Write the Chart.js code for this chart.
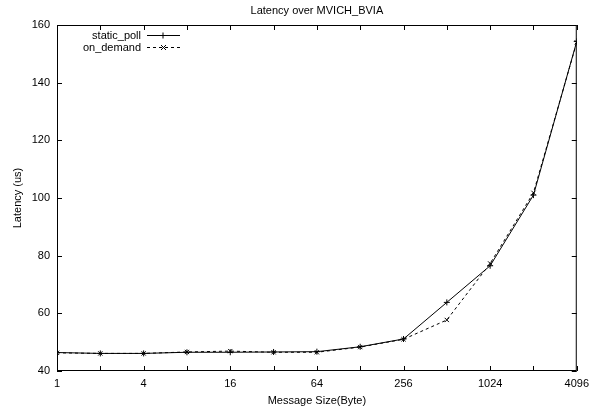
<!DOCTYPE html>
<html>
<head>
<meta charset="utf-8">
<script src="https://cdn.jsdelivr.net/npm/chart.js@4"></script>
<style>
  html,body{margin:0;padding:0;background:#fff;}
  #wrap{width:595px;height:412px;}
</style>
</head>
<body>
<div id="wrap"><canvas id="myChart" width="595" height="412"></canvas></div>
<script>
// message sizes (bytes) and latencies (us)
var sizes=[1,2,4,8,16,32,64,128,256,512,1024,2048,4096];
var static_poll=[46.4,46.1,46.1,46.5,46.5,46.6,46.7,48.4,51.1,63.8,76.5,101.0,154.3];
var on_demand=[46.3,46.1,46.1,46.6,46.9,46.5,46.5,48.3,51.0,57.7,77.3,101.8,154.0];
var xLabels=[1,4,16,64,256,1024,4096];
var yTicks=[40,60,80,100,120,140,160];

var FONT="'Liberation Sans', Arial, Helvetica, sans-serif";

function toPoints(vals){
  return sizes.map(function(s,i){return {x:s,y:vals[i]};});
}

// gnuplot-ish frame, inward ticks, titles and key
var gnuFrame={
  id:'gnuFrame',
  afterDraw:function(chart){
    var ctx=chart.ctx, a=chart.chartArea;
    var xs=chart.scales.x, ys=chart.scales.y;
    ctx.save();
    ctx.strokeStyle='#000';
    ctx.lineWidth=1;
    ctx.strokeRect(a.left+0.5,a.top+0.5,a.right-a.left-1,a.bottom-a.top-1);
    ctx.beginPath();
    sizes.forEach(function(s){
      var px=Math.round(xs.getPixelForValue(s))+0.5;
      ctx.moveTo(px,a.bottom);ctx.lineTo(px,a.bottom-5);
      ctx.moveTo(px,a.top);ctx.lineTo(px,a.top+5);
    });
    yTicks.forEach(function(v){
      var py=Math.round(ys.getPixelForValue(v))+0.5;
      ctx.moveTo(a.left,py);ctx.lineTo(a.left+5,py);
      ctx.moveTo(a.right,py);ctx.lineTo(a.right-5,py);
    });
    ctx.stroke();

    ctx.fillStyle='#000';
    ctx.font='11px '+FONT;
    ctx.textAlign='center';
    ctx.textBaseline='middle';
    var cx=(a.left+a.right)/2;
    ctx.fillText('Latency over MVICH_BVIA',cx,11);
    ctx.fillText('Message Size(Byte)',cx,401);
    ctx.save();
    ctx.translate(18,(a.top+a.bottom)/2);
    ctx.rotate(-Math.PI/2);
    ctx.fillText('Latency (us)',0,0);
    ctx.restore();

    // key
    ctx.textAlign='right';
    var rows=[['static_poll',[],'cross'],['on_demand',[3,3],'crossRot']];
    rows.forEach(function(r,i){
      var y=35+i*12+0.5;
      ctx.fillText(r[0],141,y);
      ctx.setLineDash(r[1]);
      ctx.beginPath();ctx.moveTo(147,y);ctx.lineTo(180,y);ctx.stroke();
      ctx.setLineDash([]);
      ctx.beginPath();
      if(r[2]==='cross'){
        ctx.moveTo(160,y);ctx.lineTo(166,y);ctx.moveTo(163,y-3);ctx.lineTo(163,y+3);
      }else{
        ctx.moveTo(161,y-2.5);ctx.lineTo(166,y+2.5);ctx.moveTo(166,y-2.5);ctx.lineTo(161,y+2.5);
      }
      ctx.stroke();
    });
    ctx.restore();
  }
};

var ctx=document.getElementById('myChart');
var myChart=new Chart(ctx,{
  type:'line',
  data:{
    datasets:[
      {
        label:'static_poll',
        data:toPoints(static_poll),
        borderColor:'#000',
        backgroundColor:'#000',
        borderWidth:1,
        pointStyle:'cross',
        pointRadius:3,
        pointBorderWidth:1,
        tension:0
      },
      {
        label:'on_demand',
        data:toPoints(on_demand),
        borderColor:'#000',
        backgroundColor:'#000',
        borderWidth:1,
        borderDash:[3,3],
        pointStyle:'crossRot',
        pointRadius:3,
        pointBorderWidth:1,
        tension:0
      }
    ]
  },
  options:{
    responsive:false,
    animation:false,
    devicePixelRatio:1,
    layout:{padding:{top:25,right:15,left:0,bottom:0}},
    plugins:{
      legend:{display:false},
      title:{display:false},
      tooltip:{enabled:false}
    },
    scales:{
      x:{
        type:'logarithmic',
        min:1,
        max:4096,
        afterBuildTicks:function(scale){
          scale.ticks=xLabels.map(function(v){return {value:v};});
        },
        afterFit:function(scale){scale.height=41;},
        grid:{display:false,drawTicks:false},
        border:{display:false},
        ticks:{
          autoSkip:false,
          maxRotation:0,
          padding:6,
          color:'#000',
          font:{family:FONT,size:11},
          callback:function(v){return String(v);}
        }
      },
      y:{
        type:'linear',
        min:40,
        max:160,
        afterBuildTicks:function(scale){
          scale.ticks=yTicks.map(function(v){return {value:v};});
        },
        afterFit:function(scale){scale.width=57;},
        grid:{display:false,drawTicks:false},
        border:{display:false},
        ticks:{
          padding:7,
          color:'#000',
          font:{family:FONT,size:11}
        }
      }
    }
  },
  plugins:[gnuFrame]
});
</script>
</body>
</html>
